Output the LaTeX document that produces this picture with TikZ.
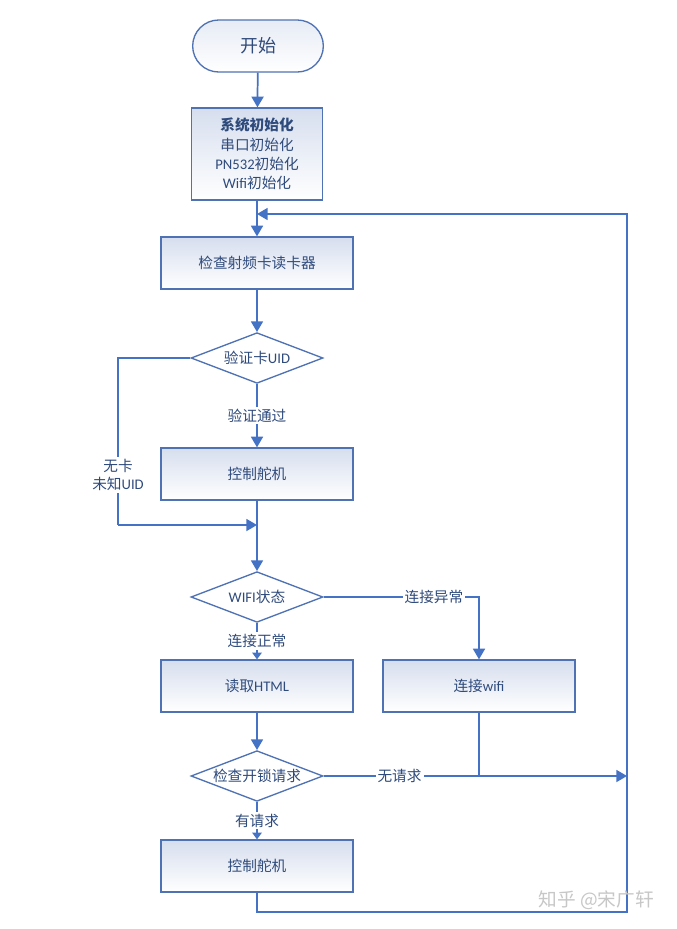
\documentclass[tikz,border=0pt]{standalone}
\usepackage{fontspec}
\setmainfont{Carlito}
\newfontfamily\cjk{Noto Sans CJK SC}
\usetikzlibrary{shapes.geometric,arrows.meta,calc}
\definecolor{lineblue}{HTML}{4472C4}
\definecolor{boxedge}{HTML}{4F72B4}
\definecolor{txtblue}{HTML}{2F4B7C}
\definecolor{topfill}{HTML}{D6DEEE}
\newcommand{\zh}[1]{{\cjk #1}}
\begin{document}
\begin{tikzpicture}[x=0.75pt,y=-0.75pt,
  font=\fontsize{11pt}{14pt}\selectfont, text=txtblue,
  procbox/.style={draw=boxedge, line width=1pt, top color=topfill, bottom color=white,
    minimum width=144pt, minimum height=39pt, inner sep=0pt, align=center},
  decis/.style={draw=boxedge, line width=1pt, fill=white, diamond, shape aspect=2.6,
    minimum width=99pt, minimum height=38pt, inner sep=0pt},
  termbox/.style={draw=boxedge, line width=1pt, top color=topfill!60, bottom color=white,
    rounded corners=19.5pt, minimum width=98pt, minimum height=39pt},
  conn/.style={draw=lineblue, line width=1.3pt},
  arr/.style={conn, -{Triangle[length=8pt,width=9pt]}},
  sarr/.style={conn, -{Triangle[length=5pt,width=7pt]}},
  lbl/.style={fill=white, inner sep=1.5pt, text=txtblue},
]
\useasboundingbox (0,0) rectangle (677,929);
\fill[white] (0,0) rectangle (677,929);

% nodes
\node[termbox, font=\fontsize{13.5pt}{15pt}\selectfont] (start) at (258,46) {\zh{开始}};
\node[procbox, minimum width=98pt, minimum height=69pt, font=\fontsize{11pt}{14.6pt}\selectfont] (init) at (257,154)
  {\zh{\bfseries 系统初始化}\\ \zh{串口初始化}\\ PN532\zh{初始化}\\ Wifi\zh{初始化}};
\node[procbox] (b2) at (257,263) {\zh{检查射频卡读卡器}};
\node[decis] (d1) at (257,358) {\zh{验证卡}UID};
\node[procbox] (b3) at (257,474) {\zh{控制舵机}};
\node[decis] (d2) at (257,597) {WIFI\zh{状态}};
\node[procbox] (b5) at (257,686) {\zh{读取}HTML};
\node[procbox] (b6) at (479,686) {\zh{连接}wifi};
\node[decis] (d3) at (257,776) {\zh{检查开锁请求}};
\node[procbox] (b7) at (257,866) {\zh{控制舵机}};

\coordinate (j0) at (257,214);
\coordinate (j1) at (257,525);
\coordinate (L1) at (118,358);
\coordinate (L2) at (118,525);
\coordinate (R1) at (627,912);
\coordinate (R2) at (627,214);
\coordinate (R3) at (627,776);
\coordinate (W1) at (479,776);

% connectors
\draw[arr] (start) -- (init);
\draw[arr] (init) -- (b2);
\draw[arr] (b2) -- (d1);
\draw[arr] (d1) -- node[lbl, pos=0.5] {\zh{验证通过}} (b3);
\draw[conn] (d1.west) -- (L1) -- node[lbl, pos=0.7, align=center] {\zh{无卡}\\ \zh{未知}UID} (L2);
\draw[arr] (L2) -- (j1);
\draw[arr] (b3) -- (d2);
\draw[arr] (d2.east) -| node[lbl, pos=0.355] {\zh{连接异常}} (b6.north);
\draw[sarr] (d2) -- node[lbl, pos=0.5] {\zh{连接正常}} (b5);
\draw[arr] (b5) -- (d3);
\draw[sarr] (d3) -- node[lbl, pos=0.5] {\zh{有请求}} (b7);
\draw[arr] (d3.east) -- node[lbl, pos=0.25] {\zh{无请求}} (R3);
\draw[conn] (b6.south) -- (W1);
\draw[arr] (b7.south) |- (R1) -- (R2) -- (j0);

% watermark
\node[text=black!22, font=\fontsize{14pt}{16pt}\selectfont, anchor=west] (wm) at (534,900) {\zh{知乎 @宋广轩}};
\end{tikzpicture}
\end{document}
